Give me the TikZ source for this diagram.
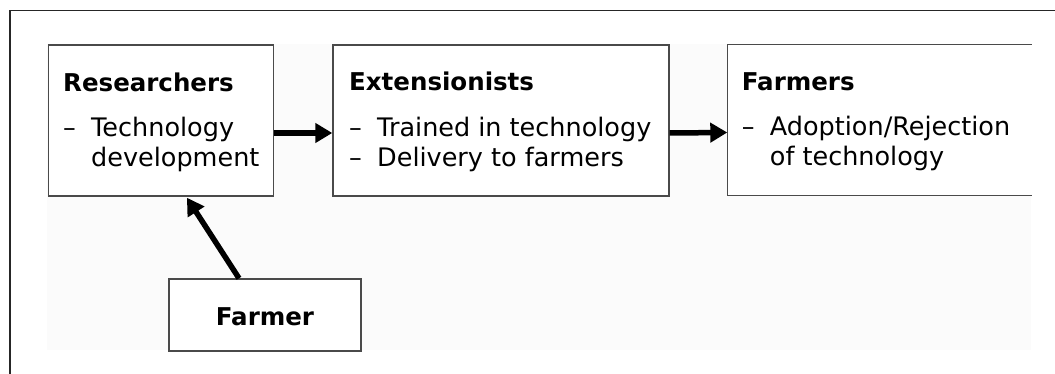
\documentclass[tikz,border=0pt]{standalone}
\usepackage{fontspec}
\setmainfont{DejaVu Sans}
\usetikzlibrary{arrows.meta}
\definecolor{bgfill}{HTML}{FBFBFB}
\definecolor{boxline}{HTML}{4A4A4A}
\tikzset{
  box/.style={draw=boxline, line width=1.4pt, fill=white, rectangle, inner sep=0pt, anchor=north west},
  openbox/.style={rectangle, fill=white, inner sep=0pt, anchor=north west},
  head/.style={anchor=base west, inner sep=0pt, font=\fontsize{24.5}{29}\selectfont\bfseries},
  item/.style={anchor=base west, inner sep=0pt, font=\fontsize{25.5}{30}\selectfont, align=left},
  bigarrow/.style={-{Triangle[length=17pt,width=19pt]}, line width=5.5pt, black},
  frameline/.style={draw=black!85, line width=1.2pt}
}
\newcommand{\dashitem}[1]{\makebox[28pt][l]{–}#1}
\begin{document}
\begin{tikzpicture}[x=1pt,y=-1pt]
\useasboundingbox (0,0) rectangle (1055,374);
\fill[white] (0,0) rectangle (1055,374);
% light background panel
\fill[bgfill] (47,44) rectangle (1031,350);
% outer frame (only top and left visible)
\draw[frameline] (10,374) -- (10,10.5) -- (1055,10.5);

% boxes
\node[box, minimum width=225pt, minimum height=151pt] (res) at (47.7,44.3) {};
\node[box, minimum width=336pt, minimum height=151pt] (ext) at (332.3,44.3) {};
\node[openbox, minimum width=304pt, minimum height=151pt] (frm) at (727.3,44.3) {};
\draw[draw=boxline, line width=1.4pt] (frm.north east) -- (frm.north west) -- (frm.south west) -- (frm.south east);
\node[box, minimum width=192pt, minimum height=72pt] (farmer) at (168.3,278.3) {};

% texts (item nodes: anchor is the baseline of their last line)
\node[head] (rhead) at (63,91.5) {Researchers};
\node[item] (ritem) at (63,166.7) {\dashitem{Technology}\\\makebox[28pt][l]{}development};
\node[head] (ehead) at (349,90.7) {Extensionists};
\node[item] (eitem) at (349,166.7) {\dashitem{Trained in technology}\\\dashitem{Delivery to farmers}};
\node[head] (fhead) at (741.7,90.7) {Farmers};
\node[item] (fitem) at (741.7,166) {\dashitem{Adoption/Rejection}\\\makebox[28pt][l]{}of technology};
\node[head, anchor=base] (fmtext) at (farmer.center |- 0,325) {Farmer};

% connectors
\draw[bigarrow] ([yshift=-12.5pt]res.east) -- ([yshift=-12.5pt]ext.west);
\draw[bigarrow] ([yshift=-12.5pt]ext.east) -- ([yshift=-12.5pt]frm.west);
\draw[bigarrow] ([xshift=-26pt]farmer.north) -- ([xshift=26pt,yshift=-1pt]res.south);
\end{tikzpicture}
\end{document}
